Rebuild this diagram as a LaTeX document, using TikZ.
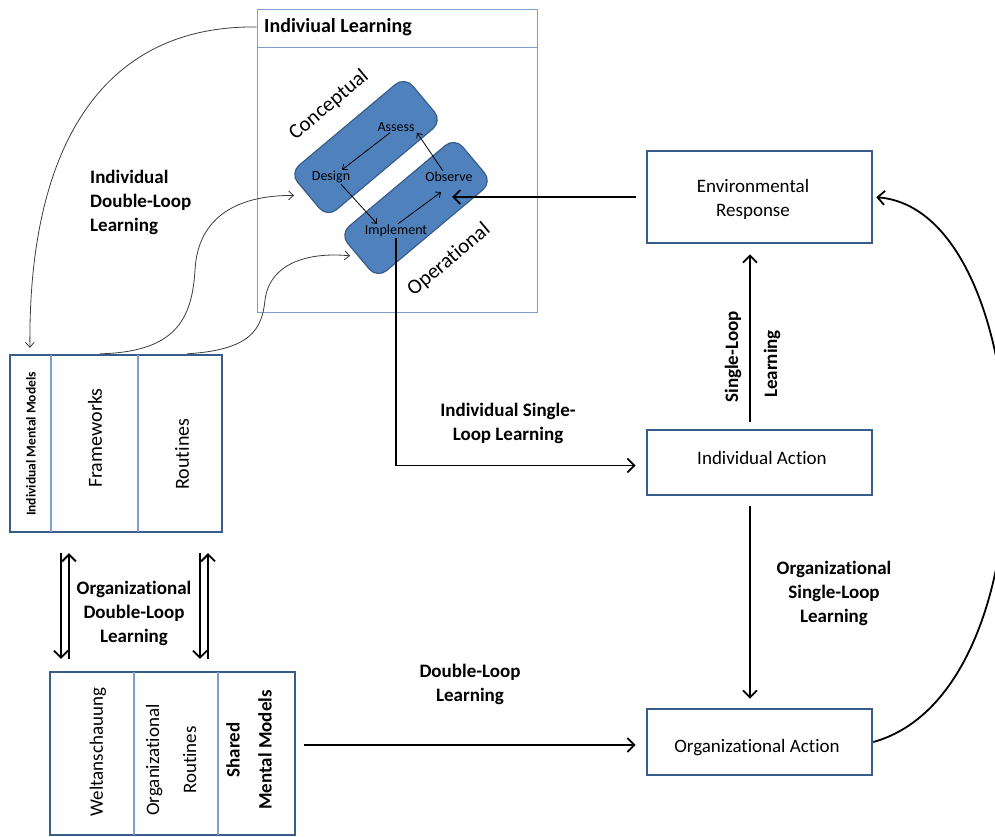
\documentclass[tikz,border=0pt]{standalone}
\usepackage{fontspec}
\setmainfont{Carlito}[Ligatures=NoCommon]
\usetikzlibrary{arrows.meta,calc}

\definecolor{boxblue}{RGB}{56,93,138}
\definecolor{lightblue}{RGB}{126,159,205}
\definecolor{fillblue}{RGB}{79,129,189}
\definecolor{curvegray}{RGB}{60,60,60}

\tikzset{
  actbox/.style={draw=boxblue, line width=2.6pt, minimum width=225pt, inner sep=0pt},
  acttext/.style={align=center, inner sep=0pt, font=\fontsize{19}{24}\selectfont},
  panel/.style={draw=boxblue, line width=2.4pt, inner sep=0pt},
  divider/.style={draw=lightblue, line width=1.3pt, shorten <=1.2pt, shorten >=1.2pt},
  phase/.style={draw=boxblue, fill=fillblue, line width=1.2pt, rounded corners=12pt,
    minimum width=150pt, minimum height=58pt, rotate=40},
  small/.style={font=\fontsize{14}{16}\selectfont, inner sep=1pt},
  big/.style={font=\fontsize{19}{24}\selectfont, inner sep=1pt, align=center},
  lbl/.style={font=\fontsize{19}{24}\selectfont\bfseries, inner sep=1pt, align=center},
  arr/.style={line width=1.8pt, -{Straight Barb[length=7pt,width=14pt]}},
  thinarr/.style={line width=0.8pt, -{Straight Barb[length=4pt,width=7pt]}},
  curvearr/.style={draw=curvegray, line width=0.8pt, -{Straight Barb[length=5pt,width=9pt]}},
}

\begin{document}
\begin{tikzpicture}[x=1pt,y=-1pt]
\useasboundingbox (0,0) rectangle (995,837);
\clip (0,0) rectangle (995,837);

% ---- Individual learning panel ----
\node[draw=lightblue, line width=0.9pt, minimum width=280pt, minimum height=303pt, inner sep=0pt] (il) at (397,160.5) {};
\draw[lightblue, line width=0.9pt] (il.west |- 0,47) -- (il.east |- 0,47);
\node[font=\fontsize{20}{24}\selectfont\bfseries, anchor=west, inner sep=0pt] (iltitle) at (264,27) {Indiviual Learning};

\node[phase] (concept) at (366,147) {};
\node[phase] (oper) at (416,208) {};

\node[rotate=40, font=\fontsize{21}{24}\selectfont, inner sep=0pt] (conclbl) at (329,105) {Conceptual};
\node[rotate=40, font=\fontsize{21}{24}\selectfont, inner sep=0pt] (operlbl) at (449,260) {Operational};

\node[small] (ass) at (396,127) {Assess};
\node[small] (des) at (331,177) {Design};
\node[small] (obs) at (449,177) {Observe};
\node[small] (impl) at (396,231) {Implement};

\draw[thinarr] ([xshift=-6pt]ass.south) -- ([xshift=11pt]des.north);
\draw[thinarr] ([xshift=10pt]des.south) -- ([xshift=-19pt]impl.north);
\draw[thinarr] ([xshift=2pt]impl.north) -- ([shift={(-8pt,-9pt)}]obs.south);
\draw[thinarr] ([xshift=-6pt]obs.north) -- ([xshift=21pt]ass.south);

\coordinate (obsin) at (452,197);

% ---- Action boxes ----
\node[actbox, minimum height=92pt] (env) at (759.5,197) {};
\node[acttext] (envtxt) at (753,199) {Environmental\\Response};
\node[actbox, minimum height=65pt] (ia) at (759.5,462.5) {};
\node[acttext] (iatxt) at (762,458) {Individual Action};
\node[actbox, minimum height=66pt] (oa) at (759.5,742) {};
\node[acttext] (oatxt) at (757,748) {Organizational Action};

% ---- Individual mental models ----
\node[panel, minimum width=212pt, minimum height=177pt] (imm) at (116,443.5) {};
\draw[divider] (51,0 |- imm.north) -- (51,0 |- imm.south);
\draw[divider] (138,0 |- imm.north) -- (138,0 |- imm.south);
\node[rotate=90, font=\fontsize{13.5}{15}\selectfont\bfseries, inner sep=0pt] (immlbl) at (31,444) {Individual Mental Models};
\node[rotate=90, font=\fontsize{20}{24}\selectfont, inner sep=0pt] (fw) at (95,438) {Frameworks};
\node[rotate=90, font=\fontsize{20}{24}\selectfont, inner sep=0pt] (rt) at (182,454) {Routines};

% ---- Shared mental models ----
\node[panel, minimum width=245pt, minimum height=163pt] (org) at (172.5,753.5) {};
\draw[divider] (134,0 |- org.north) -- (134,0 |- org.south);
\draw[divider] (218,0 |- org.north) -- (218,0 |- org.south);
\node[rotate=90, big, inner sep=0pt] (welt) at (98,752) {Weltanschauung};
\node[rotate=90, big, inner sep=0pt] (orgrt) at (171,760) {Organizational\\[13pt]Routines};
\node[rotate=90, lbl, inner sep=0pt] (shmm) at (249,750) {Shared\\[8pt]Mental Models};

% ---- Connectors ----
\draw[arr, shorten <=10pt] (env.west) -- (obsin);
\draw[arr, shorten >=10pt] (impl.south) |- ([yshift=-3pt]ia.west);
\draw[arr, shorten <=7pt, shorten >=10pt] (750,0 |- ia.north) -- (750,0 |- env.south);
\draw[arr, shorten <=10pt, shorten >=9pt] (750,0 |- ia.south) -- (750,0 |- oa.north);
\draw[arr, shorten <=8pt, shorten >=10pt] (org.east |- 0,745) -- (oa.west |- 0,745);
\draw[arr, shorten >=3pt] (oa.east) .. controls (1060,690) and (1040,210) .. (env.east);

\draw[arr, shorten <=20pt, shorten >=12pt] (61,0 |- imm.south) -- (61,0 |- org.north);
\draw[arr, shorten <=12pt, shorten >=20pt] (69,0 |- org.north) -- (69,0 |- imm.south);
\draw[arr, shorten <=20pt, shorten >=12pt] (200,0 |- imm.south) -- (200,0 |- org.north);
\draw[arr, shorten <=12pt, shorten >=20pt] (208,0 |- org.north) -- (208,0 |- imm.south);

\draw[curvearr, shorten >=6pt] (il.west |- iltitle.west) .. controls (100,25) and (28,150) .. (30,0 |- imm.north);
\draw[curvearr, shorten >=14pt] (100,0 |- imm.north) .. controls (175,352) and (192,320) .. (195,270)
   .. controls (198,215) and (240,195) .. (concept.west);
\draw[curvearr, shorten >=8pt] (187,0 |- imm.north) .. controls (250,350) and (262,330) .. (265,300)
   .. controls (270,262) and (310,252) .. (oper.west);

% ---- Labels ----
\node[lbl, align=left, anchor=west] (idl) at (89,202) {Individual\\Double-Loop\\Learning};
\node[lbl] (isl) at (508,423) {Individual Single-\\Loop Learning};
\node[lbl, rotate=90] (sl1) at (733,357) {Single-Loop};
\node[lbl, rotate=90] (sl2) at (772,364) {Learning};
\node[lbl] (osl) at (834,593) {Organizational\\Single-Loop\\Learning};
\node[lbl] (dl) at (470,684) {Double-Loop\\Learning};
\node[lbl] (odl) at (134,613) {Organizational\\Double-Loop\\Learning};
\end{tikzpicture}
\end{document}
